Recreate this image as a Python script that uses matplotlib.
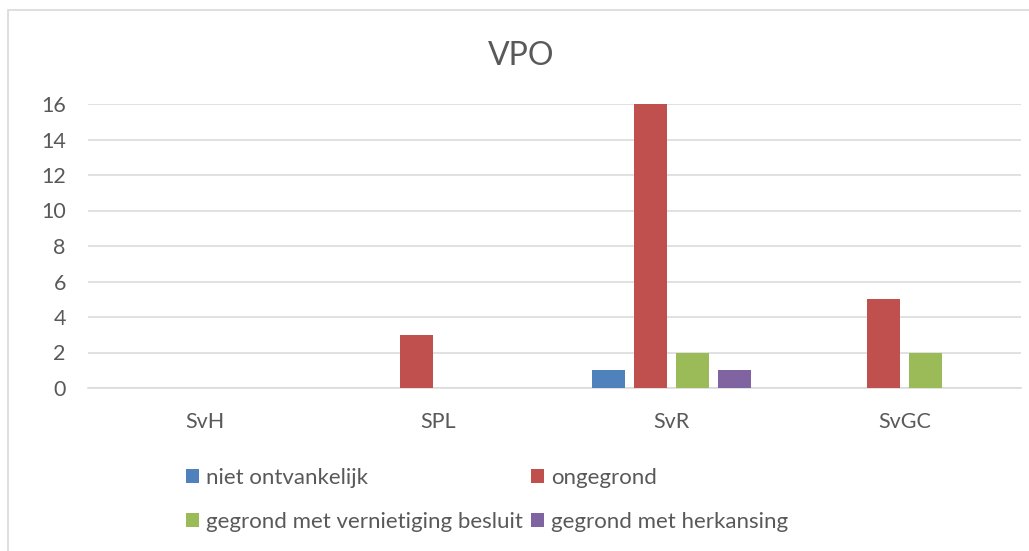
import numpy as np
import matplotlib
matplotlib.use('Agg')
import matplotlib.pyplot as plt
from matplotlib.patches import Patch, Rectangle

plt.rcParams['font.family'] = ['Lato', 'DejaVu Sans']

# Data
categories = ['SvH', 'SPL', 'SvR', 'SvGC']
series_names = ['niet ontvankelijk', 'ongegrond',
                'gegrond met vernietiging besluit', 'gegrond met herkansing']
niet_ontvankelijk = [0, 0, 1, 0]
ongegrond = [0, 3, 16, 5]
gegrond_vernietiging = [0, 0, 2, 2]
gegrond_herkansing = [0, 0, 1, 0]
yticks = [0, 2, 4, 6, 8, 10, 12, 14, 16]

colors = ['#4F81BD', '#C0504D', '#9BBB59', '#8064A2']
text_color = '#595959'
grid_color = '#D9D9D9'

W, H = 1029, 551
fig = plt.figure(figsize=(W / 100, H / 100), dpi=100)

# outer chart border (Excel style)
fig.patches.append(Rectangle((8 / W, -0.1), 1.2, 1 - 10 / H + 0.1,
                             transform=fig.transFigure, fill=False,
                             edgecolor=grid_color, linewidth=1.2))

ax = fig.add_axes([88 / W, 1 - 388 / H, (1021 - 88) / W, (388 - 104) / H])

x = np.arange(len(categories))
values = [niet_ontvankelijk, ongegrond, gegrond_vernietiging, gegrond_herkansing]
step = 0.18
width = 0.142
for i, (vals, c) in enumerate(zip(values, colors)):
    ax.bar(x + (i - 1.5) * step, vals, width=width, color=c, zorder=3)

ax.set_xlim(-0.5, len(categories) - 0.5)
ax.set_ylim(0, 16)
ax.set_yticks(yticks)
ax.set_xticks(x)
ax.set_xticklabels(categories)
ax.yaxis.grid(True, color=grid_color, linewidth=1.1, zorder=0)
ax.set_axisbelow(True)
for s in ['top', 'right', 'left']:
    ax.spines[s].set_visible(False)
ax.spines['bottom'].set_color(grid_color)
ax.spines['bottom'].set_linewidth(1.1)
ax.tick_params(axis='y', length=0, pad=16, labelsize=15.5, labelcolor=text_color)
ax.tick_params(axis='x', length=0, pad=17, labelsize=15.5, labelcolor=text_color)

fig.text(521 / W, 1 - 56 / H, 'VPO', ha='center', va='center',
         fontsize=23, color=text_color)

# legend entries placed like the Excel layout
legend_pos = [(186, 478), (531, 478), (186, 522), (531, 522)]
for name, c, (lx, ly) in zip(series_names, colors, legend_pos):
    fig.legend(handles=[Patch(facecolor=c, edgecolor='none')], labels=[name],
               loc='center left', bbox_to_anchor=(lx / W, 1 - ly / H),
               frameon=False, fontsize=16, labelcolor=text_color,
               handlelength=0.6, handleheight=0.6, handletextpad=0.3,
               borderpad=0, borderaxespad=0)

fig.savefig('out.png', dpi=100)
